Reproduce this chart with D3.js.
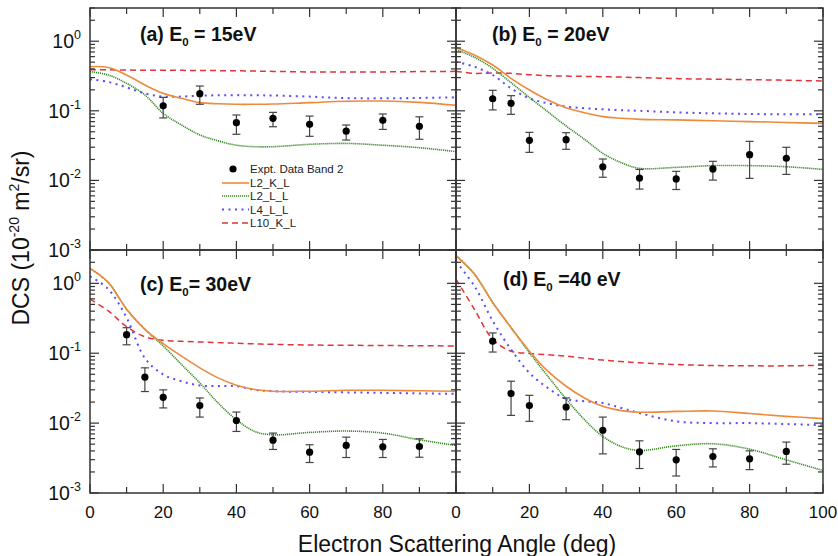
<!DOCTYPE html>
<html><head><meta charset="utf-8">
<script src="https://cdn.jsdelivr.net/npm/d3@7"></script>
<style>body{margin:0;background:#fff} text{font-family:"Liberation Sans",Arial,sans-serif}</style>
</head><body><svg id="c" width="838" height="556"></svg>
<script>
// ---------------- data ----------------
const curveAngles = [0,5,10,15,20,25,30,35,40,45,50,60,70,80,90,100];
const seriesNames = ["L2_K_L","L2_L_L","L4_L_L","L10_K_L"];
const exptName = "Expt. Data Band 2";
const xTickValues = [0,20,40,60,80,100];
const yTickExps = [0,-1,-2,-3];

const titleA = ["(a) E","0"," = 15eV"];
const titleB = ["(b) E","0"," = 20eV"];
const titleC = ["(c) E","0","= 30eV"];
const titleD = ["(d) E","0"," =40 eV"];

// panel (a) 15 eV
const exptAngA = [20,30,40,50,60,70,80,90];
const exptA    = [0.118,0.176,0.0675,0.078,0.064,0.051,0.073,0.060];
const errLoA   = [0.079,0.124,0.046,0.059,0.043,0.038,0.054,0.039];
const errHiA   = [0.156,0.227,0.087,0.095,0.084,0.0625,0.090,0.082];
const l2klA  = [0.43,0.42,0.327,0.235,0.178,0.151,0.131,0.126,0.124,0.124,0.125,0.131,0.137,0.138,0.132,0.12];
const l2llA  = [0.365,0.327,0.248,0.169,0.092,0.0625,0.045,0.037,0.032,0.0305,0.0305,0.033,0.034,0.032,0.0295,0.0259];
const l4llA  = [0.283,0.26,0.217,0.178,0.16,0.16,0.165,0.167,0.168,0.167,0.166,0.16,0.152,0.151,0.153,0.156];
const l10klA = [0.39,0.388,0.385,0.383,0.382,0.381,0.38,0.378,0.376,0.372,0.368,0.362,0.36,0.362,0.366,0.369];

// panel (b) 20 eV
const exptAngB = [10,15,20,30,40,50,60,70,80,90];
const exptB    = [0.149,0.128,0.0376,0.0385,0.0157,0.0108,0.0105,0.0146,0.0234,0.0208];
const errLoB   = [0.103,0.089,0.0253,0.028,0.0111,0.0075,0.0074,0.0101,0.0107,0.0122];
const errHiB   = [0.197,0.165,0.049,0.0485,0.0203,0.0144,0.0135,0.0188,0.0364,0.0299];
const l2klB  = [0.81,0.634,0.455,0.293,0.199,0.143,0.111,0.094,0.0824,0.078,0.0754,0.074,0.072,0.070,0.068,0.066];
const l2llB  = [0.75,0.59,0.408,0.254,0.156,0.097,0.0605,0.039,0.0245,0.018,0.0149,0.0154,0.0163,0.0163,0.0157,0.0144];
const l4llB  = [0.508,0.43,0.327,0.21,0.151,0.128,0.115,0.109,0.105,0.102,0.1,0.095,0.092,0.09,0.089,0.089];
const l10klB = [0.37,0.345,0.35,0.345,0.33,0.32,0.315,0.312,0.309,0.305,0.30,0.29,0.285,0.28,0.275,0.268];

// panel (c) 30 eV
const exptAngC = [10,15,20,30,40,50,60,70,80,90];
const exptC    = [0.184,0.0454,0.0234,0.0178,0.0109,0.0057,0.00384,0.00479,0.00458,0.00463];
const errLoC   = [0.132,0.0283,0.0165,0.0122,0.0076,0.0042,0.00273,0.00322,0.00322,0.00325];
const errHiC   = [0.232,0.0618,0.0299,0.0229,0.0144,0.0072,0.0049,0.0063,0.00584,0.00597];
const l2klC  = [1.64,1.03,0.426,0.22,0.137,0.091,0.0618,0.0444,0.0349,0.0303,0.0286,0.0286,0.0295,0.0295,0.029,0.0286];
const l2llC  = [1.64,1.03,0.426,0.22,0.127,0.069,0.0376,0.0194,0.0112,0.0076,0.0068,0.00736,0.0077,0.0072,0.00577,0.00479];
const l4llC  = [1.26,0.826,0.323,0.085,0.0496,0.0398,0.0345,0.034,0.0338,0.030,0.0286,0.028,0.0275,0.0271,0.0266,0.0262];
const l10klC = [0.593,0.403,0.24,0.172,0.153,0.148,0.145,0.142,0.139,0.136,0.134,0.131,0.13,0.129,0.128,0.127];

// panel (d) 40 eV
const exptAngD = [10,15,20,30,40,50,60,70,80,90];
const exptD    = [0.149,0.0265,0.0178,0.017,0.0079,0.00388,0.00298,0.00333,0.00308,0.00393];
const errLoD   = [0.104,0.0129,0.0106,0.0112,0.00363,0.00224,0.00175,0.00236,0.00216,0.00258];
const errHiD   = [0.195,0.0398,0.025,0.0229,0.0122,0.00558,0.0042,0.00429,0.00401,0.00535];
const l2klD  = [2.49,1.36,0.531,0.232,0.107,0.0554,0.0337,0.0229,0.0174,0.0151,0.0143,0.0147,0.0149,0.0137,0.0125,0.0116];
const l2llD  = [2.49,1.36,0.531,0.232,0.102,0.047,0.0222,0.0112,0.00645,0.00463,0.00406,0.00473,0.00506,0.00424,0.00298,0.0021];
const l4llD  = [2.04,0.92,0.29,0.113,0.0524,0.0319,0.0222,0.0205,0.0194,0.0165,0.0139,0.0106,0.01,0.01,0.0097,0.0093];
const l10klD = [1.15,0.426,0.158,0.107,0.0993,0.095,0.091,0.085,0.0797,0.076,0.073,0.0689,0.0667,0.066,0.066,0.0674];

// ---------------- layout / style ----------------
const styles = [
  {color:"#EE8A3C", width:1.6, dash:null},
  {color:"#3C8C28", width:1.6, dash:"1.2,0.8"},
  {color:"#5B4BFF", width:2,   dash:"2,4.5"},
  {color:"#E0353A", width:1.5, dash:"6,4"}
];
const panels = [
  {id:"a", x0:90,  x1:456, y0:8,   y1:250, title:titleA, tx:140, ty:41,  ang:exptAngA, ex:exptA, lo:errLoA, hi:errHiA, curves:[l2klA,l2llA,l4llA,l10klA], yLabels:true,  xLabels:null},
  {id:"b", x0:456, x1:823, y0:8,   y1:250, title:titleB, tx:492, ty:41,  ang:exptAngB, ex:exptB, lo:errLoB, hi:errHiB, curves:[l2klB,l2llB,l4llB,l10klB], yLabels:false, xLabels:null},
  {id:"c", x0:90,  x1:456, y0:250, y1:493, title:titleC, tx:140, ty:291, ang:exptAngC, ex:exptC, lo:errLoC, hi:errHiC, curves:[l2klC,l2llC,l4llC,l10klC], yLabels:true,  xLabels:[0,20,40,60,80]},
  {id:"d", x0:456, x1:823, y0:250, y1:493, title:titleD, tx:503, ty:286, ang:exptAngD, ex:exptD, lo:errLoD, hi:errHiD, curves:[l2klD,l2llD,l4llD,l10klD], yLabels:false, xLabels:xTickValues}
];

const svg = d3.select("#c");
const frameColor = "#333";

panels.forEach(p => {
  const x = d3.scaleLinear().domain([0,100]).range([p.x0,p.x1]);
  const y = d3.scaleLog().domain([1e-3,3]).range([p.y1,p.y0]);
  const g = svg.append("g");
  const clipId = "clip-"+p.id;
  svg.append("clipPath").attr("id",clipId).append("rect")
    .attr("x",p.x0).attr("y",p.y0).attr("width",p.x1-p.x0).attr("height",p.y1-p.y0);

  // curves
  const line = d3.line().x(d=>x(d[0])).y(d=>y(d[1])).curve(d3.curveCatmullRom.alpha(0.5));
  const cg = g.append("g").attr("clip-path","url(#"+clipId+")");
  [3,2,1,0].forEach(i => {
    const pts = curveAngles.map((a,k)=>[a,p.curves[i][k]]);
    cg.append("path").attr("d",line(pts)).attr("fill","none")
      .attr("stroke",styles[i].color).attr("stroke-width",styles[i].width)
      .attr("stroke-dasharray",styles[i].dash);
  });

  // error bars and points
  const eg = g.append("g");
  p.ang.forEach((a,k)=>{
    const cx = x(a);
    eg.append("line").attr("x1",cx).attr("x2",cx).attr("y1",y(p.lo[k])).attr("y2",y(p.hi[k]))
      .attr("stroke","#444").attr("stroke-width",1.2);
    [p.lo[k],p.hi[k]].forEach(v=>{
      eg.append("line").attr("x1",cx-4).attr("x2",cx+4).attr("y1",y(v)).attr("y2",y(v))
        .attr("stroke","#444").attr("stroke-width",1.2);
    });
    eg.append("circle").attr("cx",cx).attr("cy",y(p.ex[k])).attr("r",3.6).attr("fill","#000");
  });

  // frame
  g.append("rect").attr("x",p.x0).attr("y",p.y0).attr("width",p.x1-p.x0).attr("height",p.y1-p.y0)
    .attr("fill","none").attr("stroke",frameColor).attr("stroke-width",1.5);

  // x ticks (inward, top and bottom)
  const tg = g.append("g").attr("stroke",frameColor).attr("stroke-width",1.2);
  d3.range(0,101,10).forEach(v=>{
    const len = v%20===0 ? 9 : 6;
    const px = x(v);
    tg.append("line").attr("x1",px).attr("x2",px).attr("y1",p.y1).attr("y2",p.y1-len);
    tg.append("line").attr("x1",px).attr("x2",px).attr("y1",p.y0).attr("y2",p.y0+len);
  });
  // y ticks (inward, left and right)
  const yt = [];
  for (let e=-3;e<0;e++){ for (let m=1;m<=9;m++){ yt.push([m*Math.pow(10,e),m===1]); } }
  yt.push([1,true]); yt.push([2,false]); yt.push([3,false]);
  yt.forEach(([v,maj])=>{
    const len = maj ? 9 : 5;
    const py = y(v);
    tg.append("line").attr("x1",p.x0).attr("x2",p.x0+len).attr("y1",py).attr("y2",py);
    tg.append("line").attr("x1",p.x1).attr("x2",p.x1-len).attr("y1",py).attr("y2",py);
  });

  // y labels
  if (p.yLabels) {
    yTickExps.forEach(e=>{
      const t = svg.append("text").attr("x",81).attr("y",y(Math.pow(10,e))+7)
        .attr("text-anchor","end").attr("font-size",19.5).attr("fill","#111");
      t.append("tspan").text("10");
      t.append("tspan").attr("dy",-9).attr("font-size",12.5).text(String(e));
    });
  }
  // x labels
  if (p.xLabels) {
    p.xLabels.forEach(v=>{
      svg.append("text").attr("x",x(v)).attr("y",518).attr("text-anchor","middle")
        .attr("font-size",17).attr("fill","#111").text(v);
    });
  }
  // title
  const tt = svg.append("text").attr("x",p.tx).attr("y",p.ty).attr("font-size",19.5)
    .attr("font-weight","bold").attr("fill","#111");
  tt.append("tspan").text(p.title[0]);
  tt.append("tspan").attr("dy",5).attr("font-size",11.5).text(p.title[1]);
  tt.append("tspan").attr("dy",-5).text(p.title[2]);
});

// legend in panel (a)
const lg = svg.append("g");
lg.append("circle").attr("cx",233).attr("cy",169).attr("r",3.6).attr("fill","#000");
lg.append("text").attr("x",250).attr("y",173).attr("font-size",11.5).attr("fill","#222").text(exptName);
const legY = [183,196,209.5,223];
seriesNames.forEach((n,i)=>{
  lg.append("line").attr("x1",222).attr("x2",249).attr("y1",legY[i]).attr("y2",legY[i])
    .attr("stroke",styles[i].color).attr("stroke-width",styles[i].width).attr("stroke-dasharray",styles[i].dash);
  lg.append("text").attr("x",250).attr("y",legY[i]+4).attr("font-size",11.5).attr("fill","#222").text(n);
});

// axis titles
const ytl = svg.append("text").attr("transform","translate(29,238) rotate(-90)")
  .attr("text-anchor","middle").attr("font-size",23).attr("fill","#111");
ytl.append("tspan").text("DCS (10");
ytl.append("tspan").attr("dy",-10).attr("font-size",14).text("-20");
ytl.append("tspan").attr("dy",10).text(" m");
ytl.append("tspan").attr("dy",-10).attr("font-size",14).text("2");
ytl.append("tspan").attr("dy",10).text("/sr)");

svg.append("text").attr("x",457).attr("y",552).attr("text-anchor","middle")
  .attr("font-size",23).attr("fill","#111").text("Electron Scattering Angle (deg)");
</script></body></html>
